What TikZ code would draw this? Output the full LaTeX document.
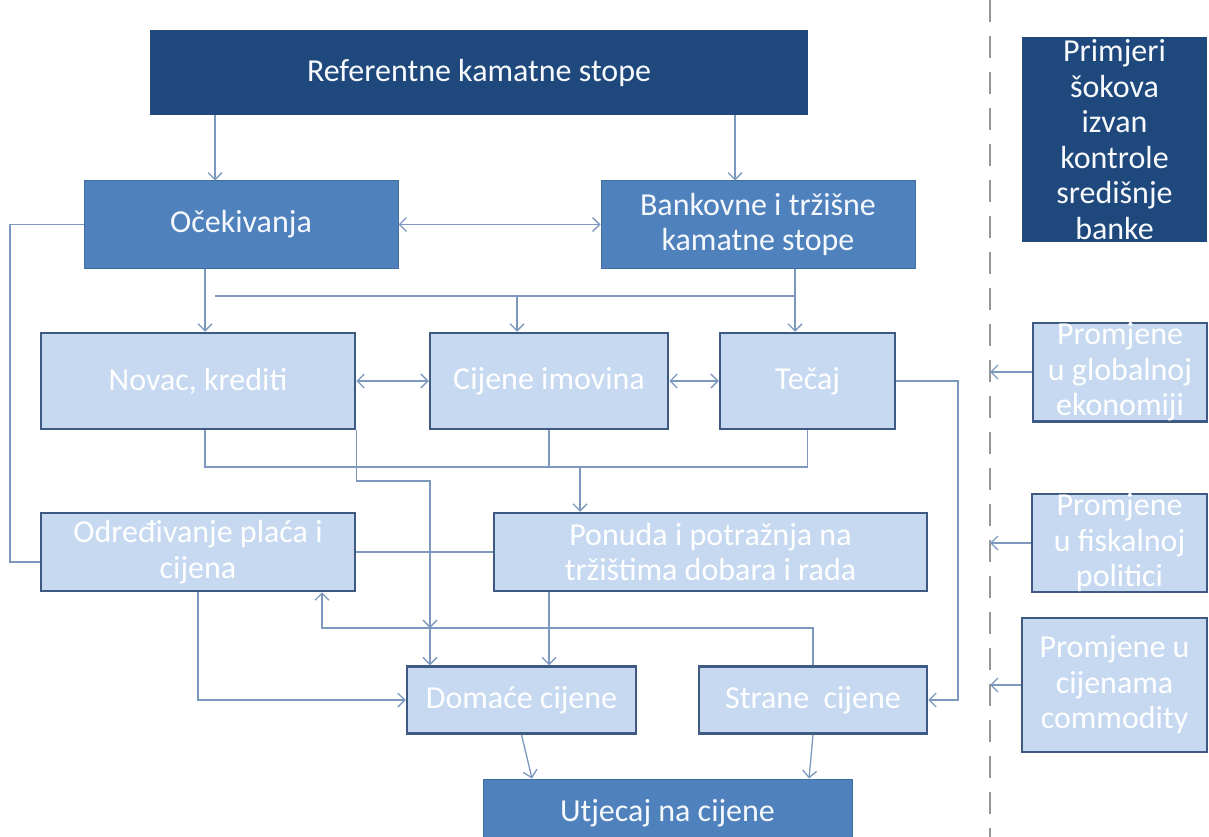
\documentclass[tikz,border=0pt]{standalone}
\usepackage{fontspec}
\setmainfont{Carlito}
\usetikzlibrary{arrows.meta}
\definecolor{navy}{RGB}{31,73,125}
\definecolor{midblue}{RGB}{79,129,189}
\definecolor{paleblue}{RGB}{198,217,241}
\definecolor{edgeblue}{RGB}{62,90,130}
\definecolor{linkblue}{RGB}{125,152,190}
\definecolor{dashgray}{RGB}{150,150,150}

\begin{document}
\begin{tikzpicture}[
            x = 1pt, y = -1pt, % pixel units, y downwards
            > = {Straight Barb[length=7pt,width=14pt]}, % open arrow head
            link/.style = {draw = linkblue, line width = 1.3pt},
            box/.style = {rectangle, align = center, inner sep = 0pt,
                font = \fontsize{32}{35.5}\selectfont},
            darkbox/.style = {box, fill = navy, text = white!88!paleblue},
            midbox/.style = {box, fill = midblue, draw = midblue!85!black,
                line width = 1pt, text = white!82!paleblue},
            palebox/.style = {box, fill = paleblue, draw = edgeblue,
                line width = 2.5pt, text = white}
        ]

        \useasboundingbox (0,0) rectangle (1209,837);

        % policy level
        \node[darkbox, minimum width=658pt, minimum height=85pt] (RK) at (479,72.5) {Referentne kamatne stope};
        \node[midbox, minimum width=314pt, minimum height=87pt] (OC) at (241,224.5) {Očekivanja};
        \node[midbox, minimum width=314pt, minimum height=87pt] (BK) at (758,224.5) {Bankovne i tržišne\\kamatne stope};

        % transmission channels
        \node[palebox, minimum width=314pt, minimum height=96pt] (NK) at (198,381) {Novac, krediti};
        \node[palebox, minimum width=238pt, minimum height=96pt] (CI) at (549,381) {Cijene imovina};
        \node[palebox, minimum width=175pt, minimum height=96pt] (TE) at (807.5,381) {Tečaj};
        \node[palebox, minimum width=314pt, minimum height=78pt] (OP) at (198,552) {Određivanje plaća i\\cijena};
        \node[palebox, minimum width=433pt, minimum height=78pt] (PP) at (710.5,552) {Ponuda i potražnja na\\tržištima dobara i rada};
        \node[palebox, minimum width=229pt, minimum height=67pt] (DC) at (521.5,700) {Domaće cijene};
        \node[palebox, minimum width=228pt, minimum height=67pt] (SC) at (813,700) {Strane~~cijene};
        \node[midbox, minimum width=369pt, minimum height=68pt] (UC) at (667.5,813) {Utjecaj na cijene};

        % shocks
        \node[darkbox, minimum width=185pt, minimum height=205pt] (PS) at (1114.5,139.5) {Primjeri\\šokova\\izvan\\kontrole\\središnje\\banke};
        \node[palebox, minimum width=174pt, minimum height=96pt] (GE) at (1120,372) {Promjene\\u globalnoj\\ekonomiji};
        \node[palebox, minimum width=175pt, minimum height=96pt] (FP) at (1119.5,543) {Promjene\\u fiskalnoj\\politici};
        \node[palebox, minimum width=185pt, minimum height=134pt] (CC) at (1114.5,685) {Promjene u\\cijenama\\commodity};

        % helper positions
        \coordinate (xa) at (215,0);
        \coordinate (xb) at (735,0);
        \coordinate (xc) at (205,0);
        \coordinate (xd) at (517,0);
        \coordinate (xe) at (795,0);
        \coordinate (xf) at (580,0);
        \coordinate (xg) at (430,0);
        \coordinate (xh) at (322,0);
        \coordinate (xk) at (958,0);
        \coordinate (xl) at (10,0);
        \coordinate (xm) at (532,0);
        \coordinate (xn) at (809,0);
        \coordinate (ya) at (0,296);
        \coordinate (yb) at (0,467);
        \coordinate (yc) at (0,481);
        \coordinate (yd) at (0,628);
        \coordinate (qa) at (990,0);
        \coordinate (qb) at (990,837);

        % upper links
        \draw[link,->] (RK.south -| xa) -- (OC.north -| xa);
        \draw[link,->] (RK.south -| xb) -- (BK.north -| xb);
        \draw[link,<->] (OC.east) -- (BK.west);
        \draw[link,->] (OC.south -| xc) -- (NK.north -| xc);
        \draw[link] (BK.south -| xe) -- (xe |- ya) -- (xa |- ya);
        \draw[link,->] (xd |- ya) -- (CI.north -| xd);
        \draw[link,->] (xe |- ya) -- (TE.north -| xe);
        \draw[link,<->] (NK.east) -- (CI.west);
        \draw[link,<->] (CI.east) -- (TE.west);

        % lower links
        \draw[link] (NK.south -| xc) -- (xc |- yb) -- (TE.south |- yb) -- (TE.south);
        \draw[link] (CI.south) -- (CI.south |- yb);
        \draw[link,->] (xf |- yb) -- (PP.north -| xf);
        \draw[link,->] (NK.south east) -- (NK.south east |- yc) -| (xg |- yd);
        \draw[link,->] (xg |- yd) -- (DC.north -| xg);
        \draw[link] (OC.west) -- (OC.west -| xl) |- ([shift={(0,10)}]OP.west);
        \draw[link] (OP.east) -- (OP.east -| PP.west);
        \draw[link,->] (OP.south) |- (DC.west);
        \draw[link,->] (SC.north) |- (xh |- yd) -- (OP.south -| xh);
        \draw[link,->] (PP.south -| CI.south) -- (DC.north -| CI.south);
        \draw[link,->] (TE.east) -| (xk |- SC.east) -- (SC.east);
        \draw[link,->] (DC.south) -- (UC.north -| xm);
        \draw[link,->] (SC.south) -- (UC.north -| xn);

        % shocks side
        \draw[dashgray, line width=1.2pt, dash pattern=on 22pt off 14pt] (qa) -- (qb);
        \draw[link,->] (GE.west) -- (GE.west -| qa);
        \draw[link,->] (FP.west) -- (FP.west -| qa);
        \draw[link,->] (CC.west) -- (CC.west -| qa);

\end{tikzpicture}
\end{document}
